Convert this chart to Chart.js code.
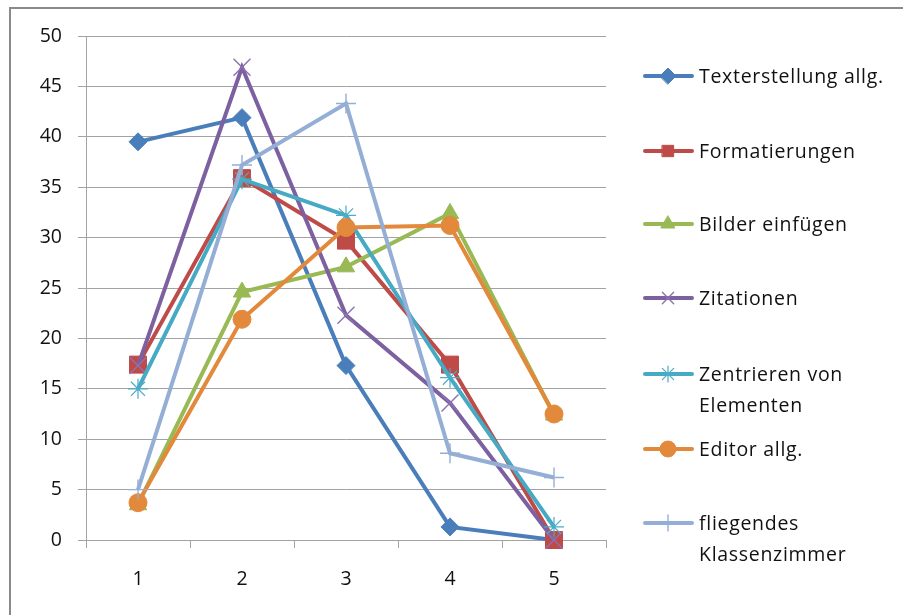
<!DOCTYPE html>
<html><head><meta charset="utf-8">
<script src="https://cdn.jsdelivr.net/npm/chart.js@4.4.1/dist/chart.umd.min.js"></script>
<style>
html,body{margin:0;padding:0;background:#fff;overflow:hidden}
#wrap{position:relative;width:903px;height:615px;overflow:hidden}
#frame{position:absolute;left:9px;top:7px;width:1000px;height:1000px;border-top:2px solid #8a8a8a;border-left:2px solid #8a8a8a}
#c{position:absolute;left:0;top:0}
.leg{position:absolute;left:699px;font-family:'Open Sans', sans-serif;font-size:19.5px;line-height:31px;color:#111;white-space:nowrap;font-variant-ligatures:none;letter-spacing:0.7px}
</style></head><body>
<div id="wrap"><div id="frame"></div><canvas id="c" width="903" height="615"></canvas><div id="legend"></div></div>
<script>
const categories = ['1', '2', '3', '4', '5'];
const yTicks = [0, 5, 10, 15, 20, 25, 30, 35, 40, 45, 50];
const seriesNames = ['Texterstellung allg.', 'Formatierungen', 'Bilder einfügen', 'Zitationen', 'Zentrieren von Elementen', 'Editor allg.', 'fliegendes Klassenzimmer'];
const legendLines = [['Texterstellung allg.'], ['Formatierungen'], ['Bilder einfügen'], ['Zitationen'], ['Zentrieren von', 'Elementen'], ['Editor allg.'], ['fliegendes', 'Klassenzimmer']];
const texterstellung = [39.5, 41.9, 17.3, 1.3, 0];
const formatierungen = [17.4, 35.9, 29.7, 17.4, 0];
const bilderEinfuegen = [3.5, 24.6, 27.1, 32.4, 12.4];
const zitationen = [17.3, 46.9, 22.3, 13.6, 0];
const zentrieren = [15.0, 35.8, 32.2, 16.1, 1.3];
const editorAllg = [3.7, 21.9, 31.0, 31.2, 12.5];
const fliegendes = [5.0, 37.2, 43.3, 8.6, 6.2];
const seriesValues = [texterstellung, formatierungen, bilderEinfuegen, zitationen, zentrieren, editorAllg, fliegendes];

const lineColors = ['#4A7EBB', '#BE4B48', '#98B954', '#7D60A0', '#46AAC5', '#E2893B', '#94AED6'];
const markerColors = ['#4A7EBB', '#BE4B48', '#98B954', '#8C72B0', '#4BACC6', '#E2893B', '#94AED6'];
const pointStyles = ['rectRot', 'rect', 'triangle', 'crossRot', 'star', 'circle', 'cross'];
const pointRadii = [9, 12, 10, 12, 10, 9, 10];
const pointBorders = [1, 1, 1, 1.4, 1.2, 1, 1.4];
const legendY = [76, 151, 224, 298, 374, 449, 523];

const FONT = "'Open Sans', sans-serif";
const GRID = '#a3a3a3';

const datasets = seriesValues.map((vals, i) => ({
  label: seriesNames[i],
  data: vals,
  borderColor: lineColors[i],
  backgroundColor: markerColors[i],
  borderWidth: 4,
  pointStyle: pointStyles[i],
  pointRadius: pointRadii[i],
  pointBorderColor: markerColors[i],
  pointBackgroundColor: markerColors[i],
  pointBorderWidth: pointBorders[i],
  tension: 0,
  clip: false,
  order: seriesValues.length - i
}));

const legendPlugin = {
  id: 'excelLegend',
  afterDraw(chart) {
    const ctx = chart.ctx;
    chart.data.datasets.forEach((ds, i) => {
      const y = legendY[i];
      ctx.save();
      ctx.strokeStyle = ds.borderColor;
      ctx.lineWidth = 4;
      ctx.lineCap = 'round';
      ctx.beginPath();
      ctx.moveTo(645, y); ctx.lineTo(692, y);
      ctx.stroke();
      ctx.fillStyle = ds.pointBackgroundColor;
      ctx.strokeStyle = ds.pointBorderColor;
      ctx.lineWidth = ds.pointBorderWidth;
      Chart.helpers.drawPoint(ctx, {pointStyle: ds.pointStyle, radius: Math.min(ds.pointRadius, 8), rotation: 0, borderWidth: ds.pointBorderWidth}, 668, y);
      ctx.restore();
    });
  }
};

new Chart(document.getElementById('c'), {
  type: 'line',
  data: { labels: categories, datasets },
  options: {
    responsive: false,
    animation: false,
    devicePixelRatio: 1,
    layout: { padding: { left: 0, top: 36, right: 297, bottom: 0 } },
    plugins: { legend: { display: false }, tooltip: { enabled: false } },
    scales: {
      x: {
        type: 'category',
        offset: true,
        grid: { offset: true, drawOnChartArea: false, drawTicks: true, tickLength: 8, color: GRID, lineWidth: 1 },
        border: { color: GRID, width: 1 },
        ticks: { font: { family: FONT, size: 19.5 }, color: '#111', padding: 20, maxRotation: 0 },
        afterFit(s) { s.height = 75; }
      },
      y: {
        min: 0, max: 50,
        afterBuildTicks(s) { s.ticks = yTicks.map(v => ({ value: v })); },
        grid: { color: GRID, lineWidth: 1, tickLength: 8 },
        border: { color: GRID, width: 1 },
        ticks: { font: { family: FONT, size: 19.5 }, color: '#111', padding: 16 },
        afterFit(s) { s.width = 86; }
      }
    }
  },
  plugins: [legendPlugin]
});

const leg = document.getElementById('legend');
legendLines.forEach((lines, i) => {
  const d = document.createElement('div');
  d.className = 'leg';
  d.style.top = (legendY[i] - 16) + 'px';
  d.innerHTML = lines.join('<br>');
  leg.appendChild(d);
});
</script>
</body></html>
